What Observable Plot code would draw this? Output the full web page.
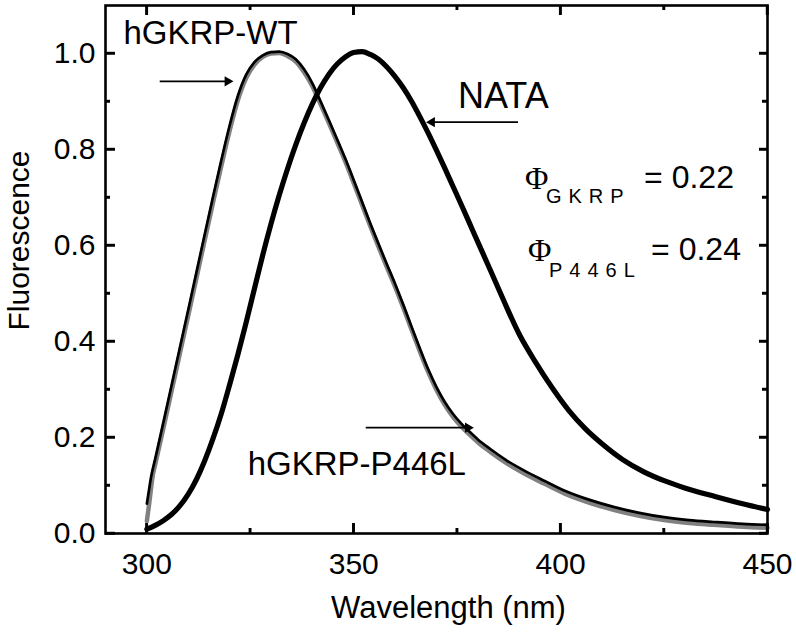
<!DOCTYPE html>
<html><head><meta charset="utf-8">
<script src="https://cdn.jsdelivr.net/npm/d3@7"></script>
<script src="https://cdn.jsdelivr.net/npm/@observablehq/plot@0.6"></script>
<style>
html,body{margin:0;padding:0;background:#fff;}
#chart svg{display:block;}
</style></head><body><div id="chart"></div>
<script>
// hGKRP-WT (black, thin)
const wtWavelength = [300, 300.5, 301, 302, 304, 306, 308, 310, 312, 314, 316, 318, 320, 322, 324, 326, 328, 330, 332, 334, 336, 338, 340, 342, 344, 346, 348, 350, 352, 354, 356, 358, 360, 362, 364, 366, 368, 370, 372, 374, 376, 378, 380, 383, 387, 391, 396, 401, 407, 413, 419, 425, 431, 437, 444, 450];
const wtFluor      = [0.062, 0.09, 0.117, 0.155, 0.232, 0.31, 0.388, 0.466, 0.545, 0.624, 0.702, 0.778, 0.85, 0.912, 0.956, 0.982, 0.996, 1.003, 1.004, 0.999, 0.988, 0.967, 0.938, 0.9, 0.861, 0.821, 0.78, 0.736, 0.691, 0.646, 0.603, 0.561, 0.52, 0.476, 0.43, 0.385, 0.342, 0.305, 0.274, 0.249, 0.229, 0.212, 0.196, 0.176, 0.152, 0.132, 0.11, 0.089, 0.07, 0.055, 0.043, 0.034, 0.028, 0.024, 0.02, 0.018];
// hGKRP-P446L (grey)
const p446lWavelength = [300, 300.6, 301.4, 302, 304, 306, 308, 310, 312, 314, 316, 318, 320, 322, 324, 326, 328, 330, 332, 334, 336, 338, 340, 342, 344, 346, 348, 350, 352, 354, 356, 358, 360, 362, 364, 366, 368, 370, 372, 374, 376, 378, 380, 383, 387, 391, 396, 401, 407, 413, 419, 425, 431, 437, 444, 450];
const p446lFluor      = [0.026, 0.065, 0.12, 0.143, 0.22, 0.298, 0.376, 0.454, 0.533, 0.612, 0.69, 0.766, 0.839, 0.903, 0.949, 0.977, 0.993, 1.0, 1.001, 0.995, 0.983, 0.961, 0.932, 0.894, 0.855, 0.815, 0.774, 0.73, 0.685, 0.64, 0.597, 0.555, 0.514, 0.47, 0.424, 0.379, 0.336, 0.299, 0.268, 0.243, 0.223, 0.206, 0.19, 0.17, 0.146, 0.126, 0.104, 0.083, 0.064, 0.049, 0.037, 0.028, 0.022, 0.018, 0.014, 0.012];
// NATA (black, thick)
const nataWavelength = [300, 302, 304, 306, 308, 310, 312, 314, 316, 318, 320, 322, 324, 326, 328, 330, 332, 334, 336, 338, 340, 342, 344, 346, 348, 350, 352, 354, 356, 358, 360, 362, 364, 366, 368, 370, 372, 374, 376, 378, 380, 383, 386, 390, 394, 398, 402, 406, 410, 415, 420, 425, 430, 437, 444, 450];
const nataFluor      = [0.009, 0.017, 0.027, 0.04, 0.058, 0.082, 0.113, 0.152, 0.198, 0.25, 0.31, 0.373, 0.44, 0.51, 0.58, 0.645, 0.705, 0.76, 0.81, 0.855, 0.895, 0.929, 0.957, 0.978, 0.993, 1.002, 1.004, 0.998, 0.988, 0.972, 0.952, 0.928, 0.9, 0.868, 0.834, 0.798, 0.761, 0.723, 0.685, 0.646, 0.607, 0.549, 0.49, 0.415, 0.356, 0.303, 0.256, 0.218, 0.187, 0.154, 0.129, 0.11, 0.095, 0.078, 0.062, 0.05];

const xMajorTicks = [300, 350, 400, 450];
const xMinorTicks = [325, 375, 425];
const yMajorTicks = [0.0, 0.2, 0.4, 0.6, 0.8, 1.0];
const yMinorTicks = [0.1, 0.3, 0.5, 0.7, 0.9];

// annotation texts (anchored in data coordinates)
const curveLabels = [
  {text: "hGKRP-WT", x: 294.35, y: 1.0196},
  {text: "hGKRP-P446L", x: 324.36, y: 0.1225}
];
const nataLabel = [{text: "NATA", x: 375.2, y: 0.886}];
const phiSymbols = [{text: "Φ", x: 391.4, y: 0.717}, {text: "Φ", x: 392.1, y: 0.5668}];
const phiSubscripts = [{text: "GKRP", x: 396.45, y: 0.6876}, {text: "P446L", x: 397.18, y: 0.5334}];
const phiValues = [{text: "= 0.22", x: 420.17, y: 0.7208}, {text: "= 0.24", x: 421.86, y: 0.5706}];
const arrows = [
  {x1: 303.1, x2: 319.5, y1: 0.942, y2: 0.942, dir: 90},
  {x1: 389.7, x2: 368.9, y1: 0.857, y2: 0.857, dir: -90},
  {x1: 352.9, x2: 377.6, y1: 0.2205, y2: 0.2205, dir: 90}
];

const rows = (xs, ys) => xs.map((x, i) => ({x, y: ys[i]}));
const wt = rows(wtWavelength, wtFluor);
const p446l = rows(p446lWavelength, p446lFluor);
const nata = rows(nataWavelength, nataFluor);

const font = "'Liberation Sans', Arial, Helvetica, sans-serif";
const W = 796, H = 632, ML = 105, MR = 29, MT = 5, MB = 99;
const FW = W - ML - MR, FH = H - MT - MB;
const xDomain = [290, 450], yDomain = [0, 1.1];

const tickStyle = {stroke: "#000", strokeWidth: 2.4};

const chart = Plot.plot({
  width: W,
  height: H,
  marginLeft: ML,
  marginRight: MR,
  marginTop: MT,
  marginBottom: MB,
  x: {domain: xDomain, label: null},
  y: {domain: yDomain, label: null},
  style: {fontFamily: font, fontSize: "30px", color: "#000", background: "#fff", overflow: "visible"},
  marks: [
    Plot.line(p446l, {x: "x", y: "y", stroke: "#808080", strokeWidth: 4.5, strokeLinejoin: "round", curve: "monotone-x"}),
    Plot.line(wt, {x: "x", y: "y", stroke: "#000", strokeWidth: 2.7, strokeLinejoin: "round", curve: "monotone-x"}),
    Plot.line(nata, {x: "x", y: "y", stroke: "#000", strokeWidth: 5.2, strokeLinejoin: "round", curve: "monotone-x"}),
    // tick labels
    Plot.axisX(xMajorTicks, {anchor: "bottom", tickSize: 0, tickPadding: 19, tickFormat: d => String(d), fontSize: 30, label: null}),
    Plot.axisY(yMajorTicks, {anchor: "left", tickSize: 0, tickPadding: 10, tickFormat: d => d.toFixed(1), fontSize: 30, label: null}),
    // axis titles
    Plot.text(["Wavelength (nm)"], {frameAnchor: "bottom", textAnchor: "middle", lineAnchor: "bottom", dx: 12, dy: 84, fontSize: 31, fill: "#000"}),
    Plot.text(["Fluorescence"], {frameAnchor: "left", textAnchor: "middle", lineAnchor: "middle", rotate: -90, dx: -86, dy: -29, fontSize: 30, fill: "#000"}),
    // annotations
    Plot.text(curveLabels, {x: "x", y: "y", text: "text", textAnchor: "start", lineAnchor: "bottom", fontSize: 33, fill: "#000"}),
    Plot.text(nataLabel, {x: "x", y: "y", text: "text", textAnchor: "start", lineAnchor: "bottom", fontSize: 36, fill: "#000"}),
    Plot.text(phiSymbols, {x: "x", y: "y", text: "text", textAnchor: "start", lineAnchor: "bottom", fontSize: 32, fontFamily: "'Liberation Serif', 'Times New Roman', serif", fill: "#000"}),
    Plot.text(phiSubscripts, {x: "x", y: "y", text: "text", textAnchor: "start", lineAnchor: "bottom", fontSize: 20, fill: "#000"}),
    Plot.text(phiValues, {x: "x", y: "y", text: "text", textAnchor: "start", lineAnchor: "bottom", fontSize: 32, fill: "#000"}),
    Plot.link(arrows, {x1: "x1", y1: "y1", x2: "x2", y2: "y2", stroke: "#000", strokeWidth: 1.6}),
    Plot.dot(arrows, {x: "x2", y: "y2", symbol: "triangle", r: 3.8, rotate: "dir", fill: "#000", stroke: "none"}),
    Plot.frame({stroke: "#000", strokeWidth: 2.6}),
    // inward ticks on all four sides
    Plot.ruleX(xMajorTicks, {insetTop: FH - 10, ...tickStyle}),
    Plot.ruleX(xMinorTicks, {insetTop: FH - 5, ...tickStyle}),
    Plot.ruleX(xMajorTicks, {insetBottom: FH - 10, ...tickStyle}),
    Plot.ruleX(xMinorTicks, {insetBottom: FH - 5, ...tickStyle}),
    Plot.ruleY(yMajorTicks, {insetRight: FW - 10, ...tickStyle}),
    Plot.ruleY(yMinorTicks, {insetRight: FW - 5, ...tickStyle}),
    Plot.ruleY(yMajorTicks, {insetLeft: FW - 8, ...tickStyle}),
    Plot.ruleY(yMinorTicks, {insetLeft: FW - 5, ...tickStyle})
  ]
});
document.getElementById("chart").appendChild(chart);
// letter-spacing for subscripts
chart.querySelectorAll("text").forEach(t => {
  if (t.textContent === "GKRP" || t.textContent === "P446L") t.setAttribute("letter-spacing", "7");
});

// extra tick layer positioned with Plot's own scales (ensures inward ticks are painted on top)
const sx = chart.scale("x"), sy = chart.scale("y");
const x0 = sx.apply(xDomain[0]), x1 = sx.apply(xDomain[1]);
const y0 = sy.apply(yDomain[0]), y1 = sy.apply(yDomain[1]);
const g = d3.select(chart).append("g").attr("stroke", "#000").attr("stroke-width", 2.4).attr("fill", "none");
const addX = (vals, len) => vals.forEach(v => {
  const px = sx.apply(v);
  g.append("line").attr("x1", px).attr("x2", px).attr("y1", y0).attr("y2", y0 - len);
  g.append("line").attr("x1", px).attr("x2", px).attr("y1", y1).attr("y2", y1 + len);
});
const addY = (vals, lenL, lenR) => vals.forEach(v => {
  const py = sy.apply(v);
  g.append("line").attr("x1", x0).attr("x2", x0 + lenL).attr("y1", py).attr("y2", py);
  g.append("line").attr("x1", x1).attr("x2", x1 - lenR).attr("y1", py).attr("y2", py);
});
addX(xMajorTicks, 10);
addX(xMinorTicks, 5);
addY(yMajorTicks, 10, 8);
addY(yMinorTicks, 5, 5);
</script>
</body></html>
